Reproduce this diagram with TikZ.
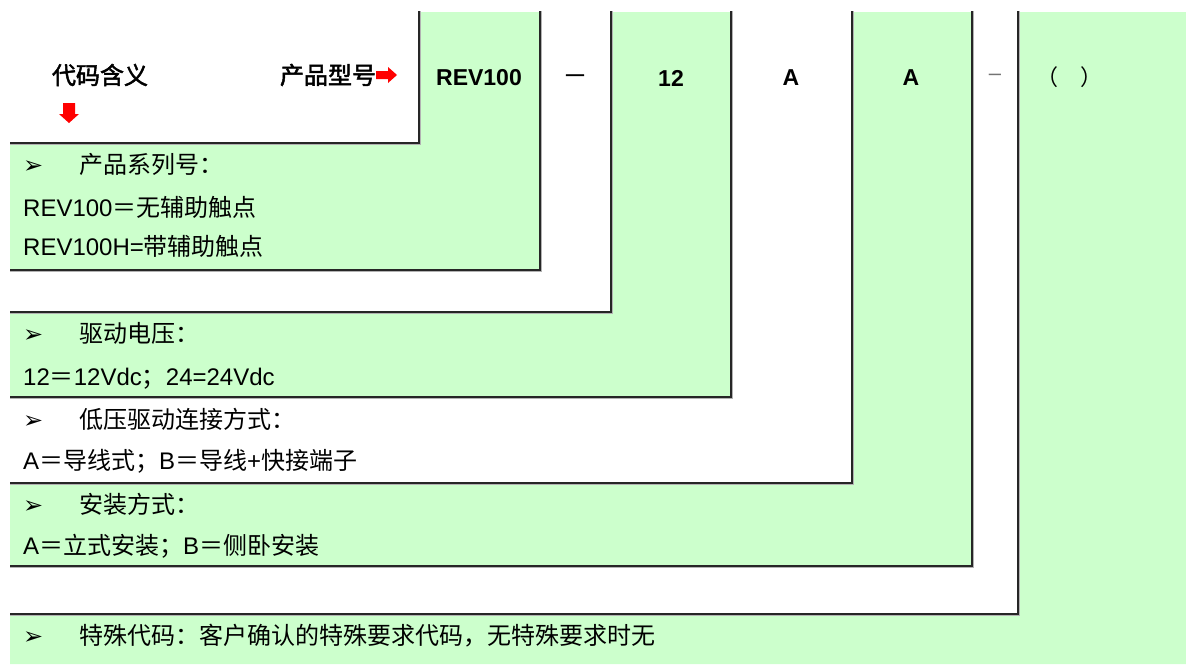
\documentclass[tikz,border=0pt]{standalone}
\usepackage{fontspec}
\setmainfont{Liberation Sans}
\newfontfamily\cjk{Noto Sans CJK SC}
\newfontfamily\cjkh[FakeBold=2]{Noto Sans CJK SC}
\newfontfamily\dv{DejaVu Sans}
\definecolor{lg}{HTML}{CCFFCC}
\definecolor{arrowred}{HTML}{FF0000}
\newcommand{\cj}[1]{{\cjk\fontsize{24}{28}\selectfont #1}}
\begin{document}
\begin{tikzpicture}[x=1pt,y=-1pt,
  frameline/.style={line width=1.3pt, draw=black!85, line cap=rect},
  shadowline/.style={line width=1.3pt, draw=black!30, line cap=rect},
  hdrlat/.style={font=\fontsize{23}{27}\selectfont\bfseries, anchor=center, inner sep=0},
  hdrcjk/.style={font=\cjkh\fontsize{24}{28}\selectfont, anchor=center, inner sep=0},
  rowtxt/.style={font=\fontsize{24}{28}\selectfont, anchor=base west, inner sep=0},
  bullet/.style={font=\dv\bfseries\fontsize{24}{28}\selectfont, anchor=base west, inner sep=0},
  redarrow/.style={fill=arrowred, draw=none}
 ]
\useasboundingbox (0,0) rectangle (1186,664);

% green regions
\fill[lg] (419,12) -- (540,12) -- (540,270) -- (10,270) -- (10,143) -- (419,143) -- cycle;
\fill[lg] (611,12) -- (731,12) -- (731,397) -- (10,397) -- (10,312) -- (611,312) -- cycle;
\fill[lg] (852,12) -- (972,12) -- (972,566) -- (10,566) -- (10,483) -- (852,483) -- cycle;
\fill[lg] (1018,12) -- (1186,12) -- (1186,664) -- (10,664) -- (10,614) -- (1018,614) -- cycle;

% frame lines with light shadow
\foreach \xx/\yy in {419/143, 540/270, 611/312, 731/397, 852/483, 972/566, 1018/614}{
  \draw[shadowline] (\xx+1.5,12) -- (\xx+1.5,\yy+1.5) -- (11,\yy+1.5);
  \draw[frameline] (\xx,12) -- (\xx,\yy) -- (11,\yy);
}

% header row
\node[hdrcjk] (meaning) at (100,75) {代码含义};
\node[hdrcjk] (model) at (328,75) {产品型号};
\fill[redarrow] (376,71) -- (388,71) -- (388,67) -- (397,75) -- (388,83) -- (388,79) -- (376,79) -- cycle;
\fill[redarrow] (63,103) -- (75,103) -- (75,114) -- (79,114) -- (69,123) -- (59,114) -- (63,114) -- cycle;

\node[hdrlat] (c1) at (479,78) {REV100};
\node[font=\cjkh\fontsize{22}{26}\selectfont, inner sep=0] (c2) at (575,78) {—};
\node[hdrlat] (c3) at (671,78) {12};
\node[hdrlat] (c4) at (791,78) {A};
\node[hdrlat] (c5) at (911,78) {A};
\node[font=\fontsize{22}{26}\selectfont, text=black!55, inner sep=0] (c6) at (995,77) {–};
\node[font=\cjk\fontsize{22}{26}\selectfont, anchor=west, inner sep=0] (c7) at (1036,77) {（　）};

% description rows
\node[bullet] (b1) at (23,173) {➢};
\node[rowtxt] (t1) at (79,173) {\cj{产品系列号：}};
\node[rowtxt] (t2) at (23,216) {REV100\cj{＝无辅助触点}};
\node[rowtxt] (t3) at (23,255) {REV100H=\cj{带辅助触点}};

\node[bullet] (b2) at (23,342) {➢};
\node[rowtxt] (t4) at (79,342) {\cj{驱动电压：}};
\node[rowtxt] (t5) at (23,385) {12\cj{＝}12Vdc\cj{；}24=24Vdc};

\node[bullet] (b3) at (23,428) {➢};
\node[rowtxt] (t6) at (79,428) {\cj{低压驱动连接方式：}};
\node[rowtxt] (t7) at (23,469) {A\cj{＝导线式；}B\cj{＝导线}+\cj{快接端子}};

\node[bullet] (b4) at (23,513) {➢};
\node[rowtxt] (t8) at (79,513) {\cj{安装方式：}};
\node[rowtxt] (t9) at (23,554) {A\cj{＝立式安装；}B\cj{＝侧卧安装}};

\node[bullet] (b5) at (23,644) {➢};
\node[rowtxt] (t10) at (79,644) {\cj{特殊代码：客户确认的特殊要求代码，无特殊要求时无}};
\end{tikzpicture}
\end{document}
